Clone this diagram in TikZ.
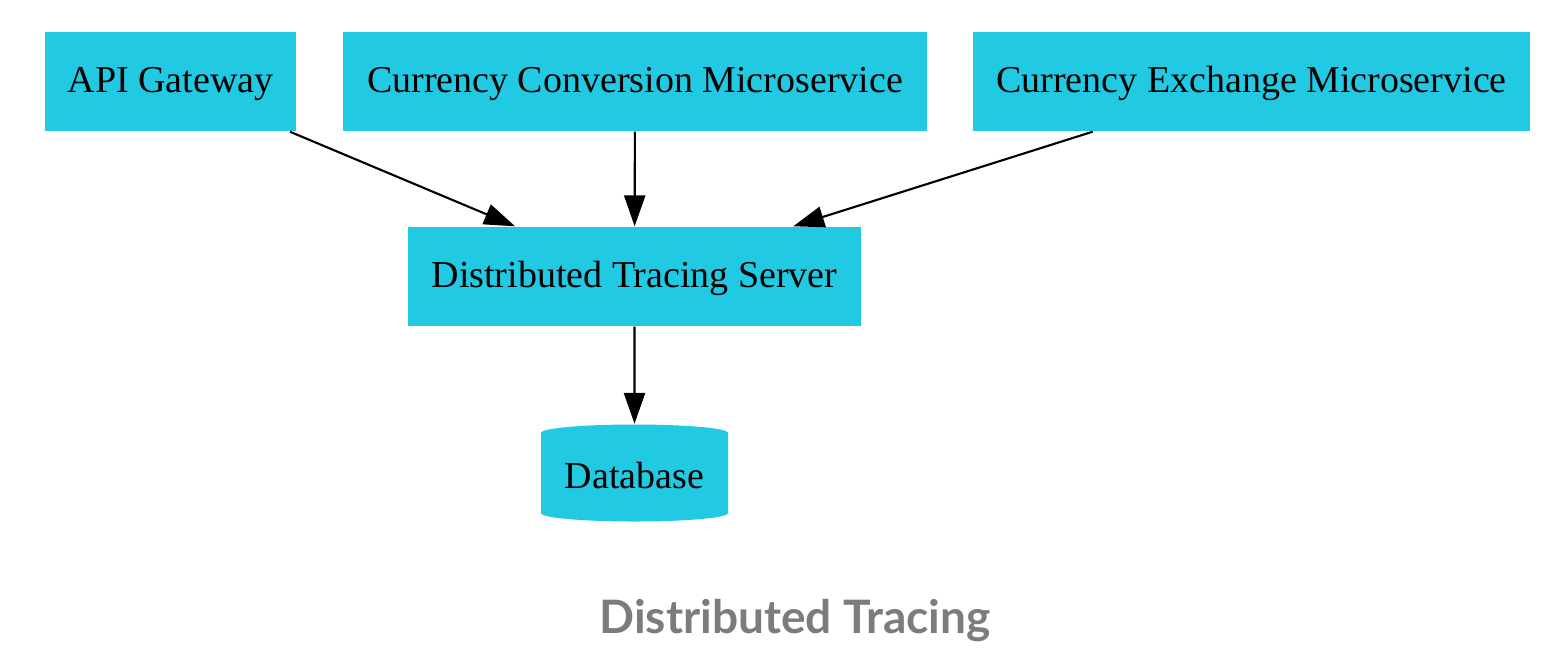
\documentclass[tikz,border=0pt]{standalone}
\usepackage{fontspec}
\setmainfont{Liberation Serif}
\newfontfamily\titlefont{Lato}
\usetikzlibrary{shapes.geometric,arrows.meta}
\definecolor{boxcyan}{HTML}{21C9E3}
\definecolor{titlegrey}{HTML}{7C7C7C}
\begin{document}
\begin{tikzpicture}[x=0.01cm,y=-0.01cm,
  box/.style={fill=boxcyan, draw=none, inner sep=0pt, minimum height=99\pxu,
    text height=8pt, text depth=1.5pt,
    font=\fontsize{10.8pt}{13pt}\selectfont, text=black},
  dbbox/.style={cylinder, shape border rotate=90, aspect=0.12, fill=boxcyan, draw=none,
    inner sep=0pt, minimum width=187\pxu, minimum height=97\pxu,
    text height=8pt, text depth=1.5pt,
    font=\fontsize{10.8pt}{13pt}\selectfont, text=black},
  edge/.style={draw=black, line width=0.6pt, -{Triangle[length=8.8pt,width=6pt]}},
]
\def\pxu{*0.01cm}
\useasboundingbox (0,0) rectangle (1549,648);
\node[box, minimum width=251\pxu] (api) at (170.5,81.5) {API Gateway};
\node[box, minimum width=584\pxu] (conv) at (635,81.5) {Currency Conversion Microservice};
\node[box, minimum width=557\pxu] (exch) at (1251.5,81.5) {Currency Exchange Microservice};
\node[box, minimum width=453\pxu] (dts) at (634.5,276.5) {Distributed Tracing Server};
\node[dbbox, anchor=shape center] (db) at (634.5,473) {Database};
\draw[edge] (api) -- (dts);
\draw[edge] (conv) -- (dts);
\draw[edge] (exch) -- (dts);
\draw[edge] (dts) -- (db);
\node[anchor=base, text=titlegrey, font=\titlefont\bfseries\fontsize{13.1pt}{15pt}\selectfont] (title) at (795,633) {Distributed Tracing};
\end{tikzpicture}
\end{document}
